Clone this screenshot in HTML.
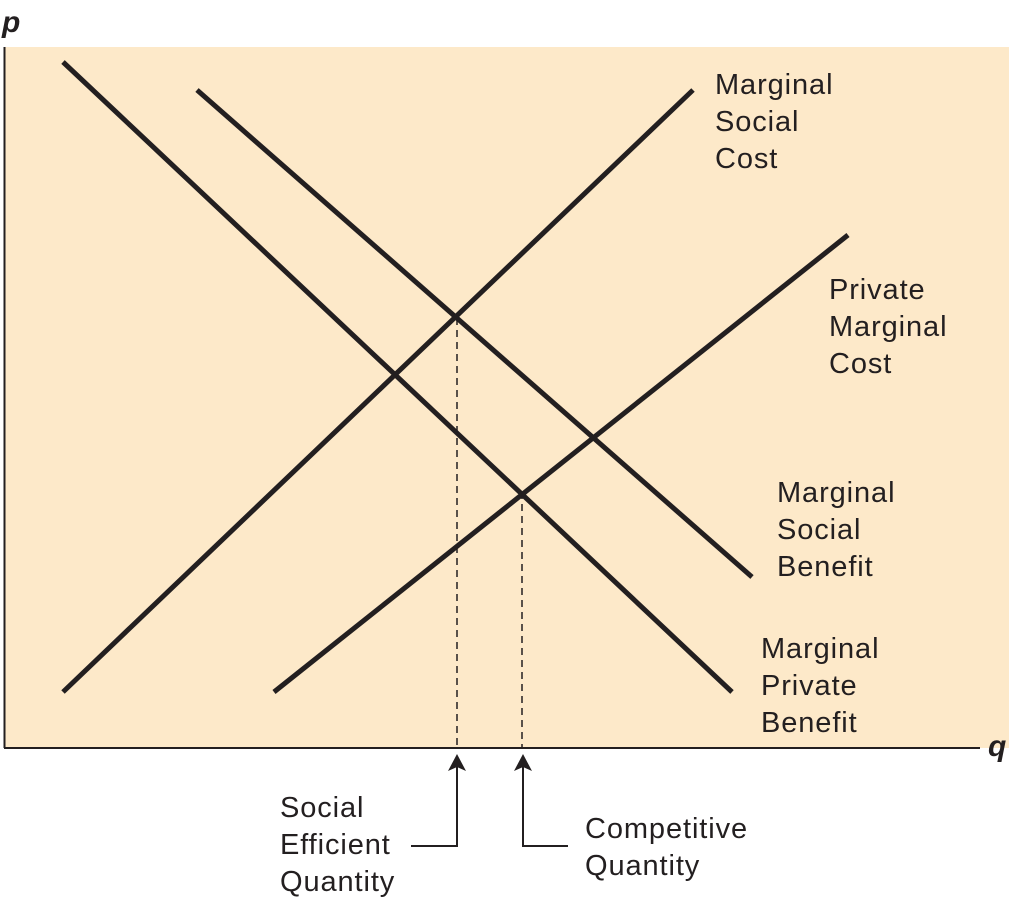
<!DOCTYPE html>
<html><head><meta charset="utf-8"><style>
html,body{margin:0;padding:0;background:#fff;}
svg{display:block}
text{font-family:"Liberation Sans",sans-serif;font-size:29px;letter-spacing:0.9px;fill:#231f20}
</style></head><body>
<svg width="1009" height="902" viewBox="0 0 1009 902" xmlns="http://www.w3.org/2000/svg">
<rect x="4" y="47" width="1005" height="701" fill="#fde9c9"/>
<line x1="4.5" y1="47" x2="4.5" y2="748" stroke="#231f20" stroke-width="2"/>
<line x1="4" y1="748" x2="980" y2="748" stroke="#231f20" stroke-width="2"/>
<text x="2" y="32" style="font-weight:bold;font-style:italic;font-size:30px;letter-spacing:0">p</text>
<text x="988" y="756" style="font-weight:bold;font-style:italic;font-size:30px;letter-spacing:0">q</text>
<g stroke="#231f20" stroke-width="5" stroke-linecap="butt">
<line x1="63" y1="62" x2="732" y2="692"/>
<line x1="197" y1="90" x2="752" y2="577"/>
<line x1="63" y1="692" x2="693" y2="90"/>
<line x1="274" y1="692" x2="848" y2="235"/>
</g>
<g stroke="#231f20" stroke-width="1.5" stroke-dasharray="7,5">
<line x1="457" y1="318" x2="457" y2="748"/>
<line x1="522" y1="492" x2="522" y2="748"/>
</g>
<g stroke="#231f20" stroke-width="2" fill="none">
<polyline points="411,846 457,846 457,765"/>
<polyline points="568,846 523,846 523,765"/>
</g>
<polygon points="457,754 448,771 457,767 466,771" fill="#231f20"/>
<polygon points="523,754 514,771 523,767 532,771" fill="#231f20"/>
<text x="715" y="94">Marginal</text>
<text x="715" y="131">Social</text>
<text x="715" y="168">Cost</text>
<text x="829" y="299">Private</text>
<text x="829" y="336">Marginal</text>
<text x="829" y="373">Cost</text>
<text x="777" y="502">Marginal</text>
<text x="777" y="539">Social</text>
<text x="777" y="576">Benefit</text>
<text x="761" y="658">Marginal</text>
<text x="761" y="695">Private</text>
<text x="761" y="732">Benefit</text>
<text x="280" y="817">Social</text>
<text x="280" y="854">Efficient</text>
<text x="280" y="891">Quantity</text>
<text x="585" y="838">Competitive</text>
<text x="585" y="875">Quantity</text>
</svg>
</body></html>
